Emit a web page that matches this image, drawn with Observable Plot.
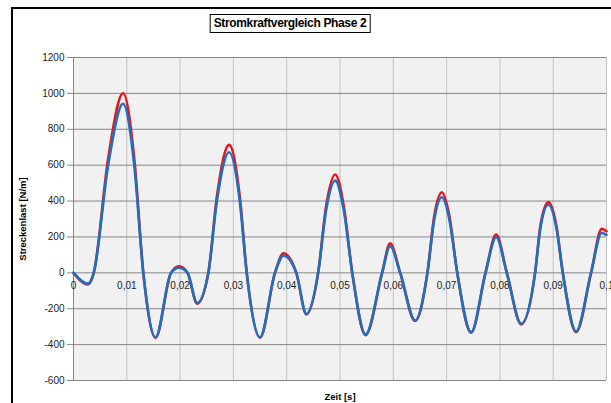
<!DOCTYPE html>
<html><head><meta charset="utf-8">
<script src="https://cdn.jsdelivr.net/npm/d3@7"></script>
<script src="https://cdn.jsdelivr.net/npm/@observablehq/plot@0.6"></script>
<style>
body{margin:0;overflow:hidden;background:#fff;font-family:"Liberation Sans",Arial,sans-serif}
#wrap{position:relative;width:611px;height:403px;overflow:hidden}
#border{position:absolute;left:11px;top:7px;width:700px;height:500px;border:2px solid #000;box-sizing:border-box}
#title{position:absolute;left:290px;top:14px;transform:translateX(-50%);height:19px;padding:0 3px;border:1.5px solid #000;box-sizing:border-box;font-weight:bold;font-size:12px;letter-spacing:-0.35px;line-height:16px;text-align:center;background:#fff;white-space:nowrap}
#ylab{position:absolute;left:22px;top:219px;transform:translate(-50%,-50%) rotate(-90deg);font-weight:bold;font-size:9.5px;white-space:nowrap}
#xlab{position:absolute;left:340px;top:396px;transform:translate(-50%,-50%);font-weight:bold;font-size:9.5px;white-space:nowrap}
#chart{position:absolute;left:0;top:0}
</style></head>
<body><div id="wrap"><div id="border"></div><div id="chart"></div>
<div id="title">Stromkraftvergleich Phase 2</div>
<div id="ylab">Streckenlast [N/m]</div>
<div id="xlab">Zeit [s]</div></div>
<script>
const times = [0, 0.0027, 0.0038, 0.0065, 0.0093, 0.0114, 0.0131, 0.0154, 0.0183, 0.0198, 0.0214, 0.0232, 0.0253, 0.0269, 0.0292, 0.0312, 0.0325, 0.0350, 0.0378, 0.0394, 0.0418, 0.0437, 0.0459, 0.0474, 0.0491, 0.0507, 0.0523, 0.0548, 0.0579, 0.0594, 0.0613, 0.0641, 0.0664, 0.0677, 0.0691, 0.0705, 0.0720, 0.0746, 0.0773, 0.0793, 0.0813, 0.0840, 0.0866, 0.0876, 0.0891, 0.0906, 0.0918, 0.0943, 0.0971, 0.0991, 0.1];
const blueValues = [0, -60, 0, 600, 942, 600, 0, -359, 0, 28, 0, -169, 0, 400, 672, 400, 0, -359, 0, 96, 0, -229, 0, 350, 514, 350, 0, -344, 0, 148, 0, -266, 0, 300, 421, 300, 0, -331, 0, 198, 0, -284, 0, 250, 379, 250, 0, -327, 0, 222, 212];
const redValues = [0, -65, 0, 636, 1001, 636, 0, -362, 0, 37, 0, -172, 0, 424, 713, 424, 0, -362, 0, 109, 0, -232, 0, 373, 548, 373, 0, -347, 0, 165, 0, -268, 0, 320, 449, 320, 0, -334, 0, 213, 0, -287, 0, 262, 394, 262, 0, -330, 0, 245, 232];
const xTicks = [0, 0.01, 0.02, 0.03, 0.04, 0.05, 0.06, 0.07, 0.08, 0.09, 0.1];
const xTickLabels = ["0", "0,01", "0,02", "0,03", "0,04", "0,05", "0,06", "0,07", "0,08", "0,09", "0,1"];
const yTicks = [-600, -400, -200, 0, 200, 400, 600, 800, 1000, 1200];

const red = times.map((t, i) => ({t, v: redValues[i]}));
const blue = times.map((t, i) => ({t, v: blueValues[i]}));
const xl = xTicks.map((x, i) => ({x, label: xTickLabels[i]}));

const chart = Plot.plot({
  width: 611, height: 403,
  marginLeft: 73, marginRight: 5, marginTop: 57, marginBottom: 23,
  style: {fontFamily: "'Liberation Sans', Arial, sans-serif", background: "transparent", overflow: "visible"},
  x: {domain: [0, 0.1]},
  y: {domain: [-600, 1200]},
  marks: [
    Plot.frame({fill: "#f1f1f1", stroke: null}),
    Plot.ruleX(xTicks, {stroke: "#c4c4c4", strokeWidth: 1}),
    Plot.ruleY(yTicks, {stroke: "#868686", strokeWidth: 1}),
    Plot.ruleX([0], {stroke: "#868686", strokeWidth: 1}),
    Plot.axisY({ticks: yTicks, tickSize: 6, tickPadding: 3, tickFormat: d => String(d), stroke: "#868686", fill: "#222", fontSize: 10, label: null}),
    Plot.axisX({ticks: [], label: null}),
    Plot.text(xl, {x: "x", y: () => 0, text: "label", dy: 13, fontSize: 10, fill: "#222"}),
    Plot.line(red, {x: "t", y: "v", stroke: "#e8141b", strokeWidth: 2.6, curve: "monotone-x"}),
    Plot.line(blue, {x: "t", y: "v", stroke: "#1f6fbe", strokeWidth: 2.6, curve: "monotone-x"})
  ]
});
document.getElementById("chart").appendChild(chart);
</script></body></html>
